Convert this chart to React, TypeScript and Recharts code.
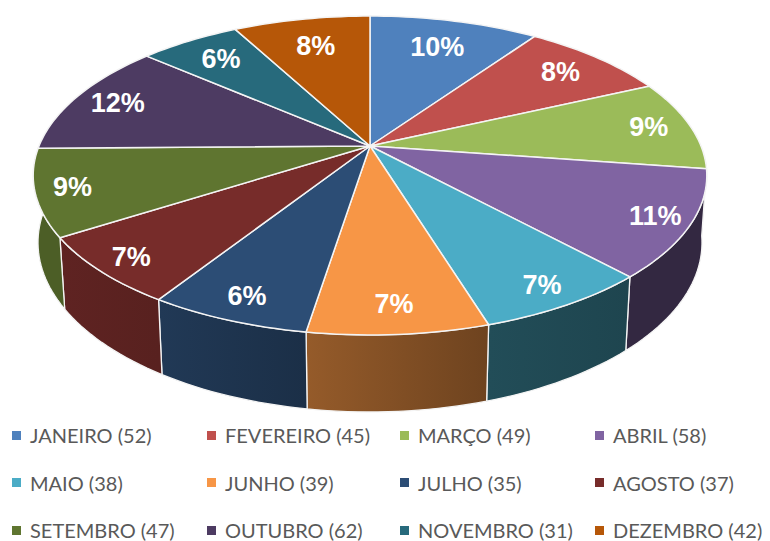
import { PieChart, Pie, Cell, Legend } from 'recharts';

const months = [
  'JANEIRO', 'FEVEREIRO', 'MARÇO', 'ABRIL', 'MAIO', 'JUNHO',
  'JULHO', 'AGOSTO', 'SETEMBRO', 'OUTUBRO', 'NOVEMBRO', 'DEZEMBRO',
];
const counts = [52, 45, 49, 58, 38, 39, 35, 37, 47, 62, 31, 42];
const percentLabels = ['10%', '8%', '9%', '11%', '7%', '7%', '6%', '7%', '9%', '12%', '6%', '8%'];
const colors = [
  '#4F81BD', '#C0504D', '#9BBB59', '#8064A2', '#4BACC6', '#F79646',
  '#2C4D75', '#772C2A', '#5F7530', '#4D3B62', '#276A7C', '#B65708',
];

const data = months.map((name, i) => ({ name, value: counts[i], pct: percentLabels[i] }));

const W = 770;
const H = 541;
// tilted disc: vertical squash, perspective and wall depth
const SQUASH = 154 / 331;
const PERSP = 0.185;
const DEPTH = 66.5;
const DEPTH_PERSP = 0.014;

const legendCols = [12, 207, 400, 595];

function proj(cx: number, cy: number, R: number, X: number, Y: number, bottom = false) {
  const d = 1 + PERSP * Y + (bottom ? DEPTH_PERSP : 0);
  return [cx + (R * X) / d, cy + (-R * SQUASH * Y + (bottom ? DEPTH : 0)) / d];
}

function edge(cx: number, cy: number, R: number, ang: number, bottom = false) {
  const a = (ang * Math.PI) / 180;
  return proj(cx, cy, R, Math.cos(a), Math.sin(a), bottom);
}

function shade(hex: string, f: number) {
  const n = parseInt(hex.slice(1), 16);
  const r = Math.round(((n >> 16) & 255) * f);
  const g = Math.round(((n >> 8) & 255) * f);
  const b = Math.round((n & 255) * f);
  return `rgb(${r},${g},${b})`;
}

const wallFactor = (u: number) => Math.min(0.8, Math.max(0.4, 0.55 - 0.35 * u));

function arcPoints(cx: number, cy: number, R: number, a1: number, a2: number, bottom = false) {
  const steps = Math.max(2, Math.ceil(Math.abs(a2 - a1) / 1.5));
  const pts: number[][] = [];
  for (let i = 0; i <= steps; i++) {
    pts.push(edge(cx, cy, R, a1 + ((a2 - a1) * i) / steps, bottom));
  }
  return pts;
}

function WallShape(props: any) {
  const { cx, cy, outerRadius, startAngle, endAngle, fill } = props;
  // only the front half of the side wall is visible
  const a1 = Math.max(Math.min(startAngle, endAngle), -180);
  const a2 = Math.min(Math.max(startAngle, endAngle), 0);
  if (a2 <= a1) return <g />;
  const top = arcPoints(cx, cy, outerRadius, a1, a2);
  const bot = arcPoints(cx, cy, outerRadius, a2, a1, true);
  const d = 'M' + [...top, ...bot].map((p) => `${p[0].toFixed(2)},${p[1].toFixed(2)}`).join('L') + 'Z';
  const id = `wall${Math.round(a1 * 10)}`;
  const x1 = top[0][0];
  const x2 = top[top.length - 1][0];
  return (
    <g>
      <defs>
        <linearGradient id={id} gradientUnits="userSpaceOnUse" x1={x1} y1={0} x2={x2} y2={0}>
          <stop offset="0%" stopColor={shade(fill, wallFactor(Math.cos((a1 * Math.PI) / 180)))} />
          <stop offset="100%" stopColor={shade(fill, wallFactor(Math.cos((a2 * Math.PI) / 180)))} />
        </linearGradient>
      </defs>
      <path d={d} fill={`url(#${id})`} stroke="#f4f4f4" strokeWidth={1.3} strokeLinejoin="round" />
    </g>
  );
}

function TopShape(props: any) {
  const { cx, cy, outerRadius, startAngle, endAngle, fill } = props;
  const pts = arcPoints(cx, cy, outerRadius, startAngle, endAngle);
  const d = `M${cx},${cy}L` + pts.map((p) => `${p[0].toFixed(2)},${p[1].toFixed(2)}`).join('L') + 'Z';
  return <path d={d} fill={fill} stroke="#f4f4f4" strokeWidth={1.5} strokeLinejoin="round" />;
}

const renderLabel = (p: any) => {
  const { cx, cy, midAngle, outerRadius, index } = p;
  const a = (midAngle * Math.PI) / 180;
  const u = Math.cos(a);
  const v = Math.sin(a);
  const r = 0.8 + 0.08 * Math.abs(u) - 0.06 * v;
  const [x, y] = proj(cx, cy, outerRadius, r * u, r * v);
  return (
    <text
      x={x}
      y={y}
      fill="#fff"
      fontSize={27}
      fontWeight="bold"
      fontFamily="'Liberation Sans', Arial, sans-serif"
      textAnchor="middle"
      dominantBaseline="central"
    >
      {p.payload?.pct ?? percentLabels[index]}
    </text>
  );
};

const renderLegend = () => (
  <div style={{ position: 'relative', width: W, height: 126 }}>
    {months.map((name, i) => (
      <div
        key={name}
        style={{
          position: 'absolute',
          left: legendCols[i % 4],
          top: 11 + Math.floor(i / 4) * 47.5,
          height: 20,
          lineHeight: '20px',
          display: 'flex',
          alignItems: 'center',
          whiteSpace: 'nowrap',
          fontFamily: 'Lato, sans-serif',
          fontSize: 20,
          color: '#595959',
        }}
      >
        <span style={{ width: 9, height: 9, background: colors[i], marginRight: 9, display: 'inline-block' }} />
        {`${name} (${counts[i]})`}
      </div>
    ))}
  </div>
);

export default function App() {
  return (
    <div style={{ position: 'absolute', left: 0, top: 0, width: W, height: H, background: '#fff' }}>
      <PieChart width={W} height={H} margin={{ top: 0, right: 0, bottom: 0, left: 0 }}>
        <Pie
          data={data}
          dataKey="value"
          nameKey="name"
          cx={370}
          cy={146}
          outerRadius={331}
          startAngle={90}
          endAngle={-270}
          stroke="none"
          legendType="none"
          shape={WallShape}
          isAnimationActive={false}
        >
          {data.map((d, i) => (
            <Cell key={d.name} fill={colors[i]} />
          ))}
        </Pie>
        <Pie
          data={data}
          dataKey="value"
          nameKey="name"
          cx={370}
          cy={146}
          outerRadius={331}
          startAngle={90}
          endAngle={-270}
          stroke="none"
          legendType="square"
          shape={TopShape}
          label={renderLabel}
          labelLine={false}
          isAnimationActive={false}
        >
          {data.map((d, i) => (
            <Cell key={d.name} fill={colors[i]} />
          ))}
        </Pie>
        <Legend
          content={renderLegend}
          wrapperStyle={{ position: 'absolute', left: 0, top: 414, width: W }}
        />
      </PieChart>
    </div>
  );
}
